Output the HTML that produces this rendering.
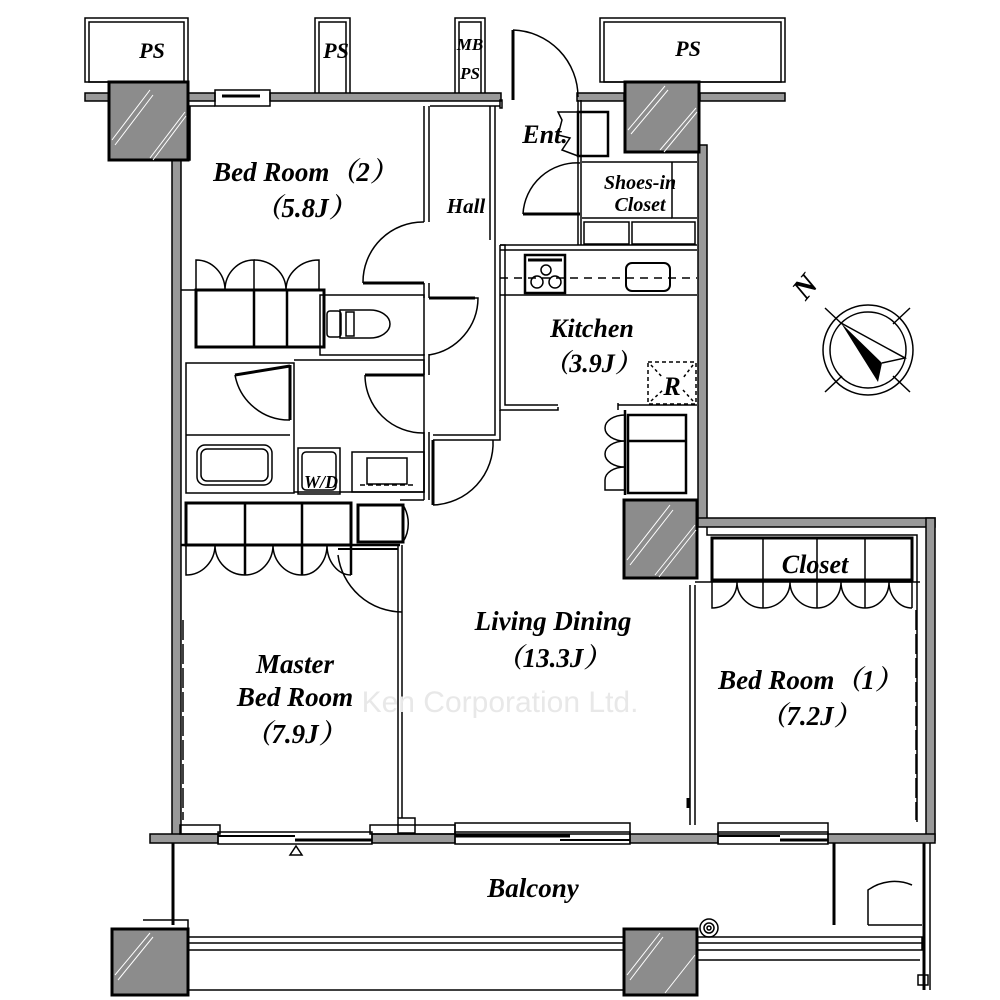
<!DOCTYPE html>
<html><head><meta charset="utf-8"><style>
html,body{margin:0;padding:0;background:#fff;}
svg{display:block}
text{font-family:"Liberation Serif","Noto Serif CJK SC",serif;font-style:italic;font-weight:bold;fill:#000}
</style></head><body>
<svg width="1000" height="1000" viewBox="0 0 1000 1000" xmlns="http://www.w3.org/2000/svg">
<g fill="none" stroke="#000" stroke-width="1.5">
<rect x="85" y="18" width="103" height="64"/><rect x="89" y="22" width="95" height="60"/>
<rect x="315" y="18" width="35" height="77"/><rect x="319" y="22" width="27" height="73"/>
<rect x="455" y="18" width="30" height="77"/><rect x="459" y="22" width="22" height="73"/>
<rect x="600" y="18" width="185" height="64"/><rect x="604" y="22" width="177" height="60"/>
</g>
<g stroke="#000" stroke-width="1.5" fill="#999">
<rect x="85" y="93" width="130" height="8"/>
<rect x="270" y="93" width="231" height="8"/>
<rect x="577" y="93" width="47" height="8"/>
<rect x="700" y="93" width="85" height="8"/>
</g>
<g fill="none" stroke="#000" stroke-width="1.5">
<rect x="215" y="90" width="55" height="16"/><line x1="222" y1="96" x2="260" y2="96" stroke-width="3"/>
<line x1="513" y1="30" x2="513" y2="100" stroke-width="3"/>
<path d="M513 30 A67 67 0 0 1 578 97"/>
<rect x="500" y="100" width="2" height="8"/>
</g>
<g fill="#999" stroke="#000" stroke-width="1.5">
<rect x="172" y="160" width="9" height="678"/>
<rect x="698" y="145" width="9" height="380"/>
<rect x="698" y="518" width="237" height="9"/>
<rect x="926" y="518" width="9" height="322"/>
<rect x="150" y="834" width="68" height="9"/>
<rect x="372" y="834" width="83" height="9"/>
<rect x="630" y="834" width="88" height="9"/>
<rect x="828" y="834" width="107" height="9"/>
</g>
<g fill="none" stroke="#000" stroke-width="1.5">
<rect x="218" y="832" width="154" height="12"/><line x1="218" y1="836" x2="295" y2="836" stroke-width="2"/><line x1="295" y1="840" x2="372" y2="840" stroke-width="3"/>
<rect x="455" y="832" width="175" height="12"/><line x1="455" y1="836" x2="570" y2="836" stroke-width="3"/><line x1="560" y1="840" x2="630" y2="840" stroke-width="2"/>
<rect x="718" y="832" width="110" height="12"/><line x1="718" y1="836" x2="780" y2="836" stroke-width="2"/><line x1="780" y1="840" x2="828" y2="840" stroke-width="3"/>
<rect x="180" y="825" width="40" height="9"/><rect x="370" y="825" width="85" height="9"/>
<rect x="455" y="823" width="175" height="11"/><rect x="718" y="823" width="110" height="11"/>
<path d="M290 855 L296 846 L302 855 Z"/>
<line x1="173" y1="843" x2="173" y2="925" stroke-width="3"/>
<line x1="834" y1="843" x2="834" y2="925" stroke-width="3"/>
<line x1="924" y1="843" x2="924" y2="990" stroke-width="3"/>
<line x1="930" y1="843" x2="930" y2="990"/>
<rect x="188" y="937" width="436" height="13"/><line x1="188" y1="943" x2="624" y2="943"/>
<rect x="697" y="937" width="225" height="13"/><line x1="697" y1="943" x2="922" y2="943"/>
<polyline points="143,920 188,920 188,937"/>
<polyline points="188,950 188,990 624,990"/>
<polyline points="697,960 920,960"/>
<path d="M868 925 L868 890 A45 45 0 0 1 912 885"/><line x1="868" y1="925" x2="922" y2="925"/>
<circle cx="709" cy="928" r="9"/><circle cx="709" cy="928" r="5"/><circle cx="709" cy="928" r="2"/>
<rect x="918" y="975" width="10" height="10"/>
</g>
<g stroke="#000" stroke-width="3" fill="#8c8c8c">
<rect x="109" y="82" width="79" height="78"/>
<rect x="625" y="82" width="74" height="70"/>
<rect x="624" y="500" width="73" height="78"/>
<rect x="112" y="929" width="76" height="66"/>
<rect x="624" y="929" width="73" height="66"/>
</g>
<g stroke="#fff" stroke-width="1" fill="none">
<path d="M112 140 L150 90 M115 145 L153 95 M150 158 L185 112 M153 160 L186 116"/>
<path d="M628 130 L665 86 M631 134 L668 90 M660 150 L696 108 M664 152 L697 112"/>
<path d="M627 560 L670 505 M630 565 L673 510 M655 575 L695 525 M659 577 L696 530"/>
<path d="M115 975 L150 933 M118 980 L153 937"/>
<path d="M627 975 L660 933 M630 980 L663 937 M665 993 L695 955"/>
</g>
<g fill="none" stroke="#000" stroke-width="1.5">
<polyline points="181,160 190,160 190,106 215,106"/>
<line x1="424" y1="106" x2="424" y2="222"/><line x1="429" y1="106" x2="429" y2="222"/>
<line x1="424" y1="283" x2="424" y2="298"/><line x1="429" y1="283" x2="429" y2="298"/>
<line x1="424" y1="354" x2="424" y2="375"/><line x1="429" y1="354" x2="429" y2="375"/>
<line x1="424" y1="432" x2="424" y2="500"/><line x1="429" y1="432" x2="429" y2="500"/>
<line x1="424" y1="500" x2="400" y2="500"/>
<line x1="490" y1="106" x2="490" y2="240"/><line x1="495" y1="106" x2="495" y2="240"/>
<polyline points="430,106 500,106"/>
<polyline points="500,245 500,410 558,410 558,407"/><polyline points="500,245 505,245 505,405 558,405"/>
<polyline points="500,410 500,440 433,440"/><polyline points="495,240 495,435 433,435"/>
<line x1="500" y1="245" x2="697" y2="245"/><line x1="500" y1="250" x2="697" y2="250"/>
<line x1="500" y1="295" x2="697" y2="295"/>
<line x1="500" y1="278" x2="697" y2="278" stroke-dasharray="8,6"/>
<rect x="525" y="255" width="40" height="38" stroke-width="2.5"/><line x1="528" y1="260" x2="562" y2="260" stroke-width="3"/>
<circle cx="546" cy="270" r="5"/><circle cx="537" cy="282" r="6"/><circle cx="555" cy="282" r="6"/>
<rect x="626" y="263" width="44" height="28" rx="6" stroke-width="2"/>
<line x1="578" y1="100" x2="578" y2="245"/><line x1="581" y1="100" x2="581" y2="245"/>
<rect x="578" y="112" width="30" height="44" stroke-width="2.5"/>
<path d="M578 112 L558 112 L562 120 L558 135 L570 138 L562 150 L578 156"/>
<path d="M580 163 A54 54 0 0 0 523 214"/>
<line x1="523" y1="214" x2="580" y2="214" stroke-width="3"/>
<polyline points="582,162 697,162"/><polyline points="672,162 672,218 697,218"/>
<polyline points="582,218 672,218"/>
<rect x="584" y="222" width="45" height="22"/><rect x="632" y="222" width="63" height="22"/>
<rect x="648" y="362" width="48" height="42" stroke-dasharray="4,3"/>
<line x1="651" y1="365" x2="663" y2="378" stroke-dasharray="3,3"/><line x1="693" y1="365" x2="683" y2="378" stroke-dasharray="3,3"/>
<line x1="651" y1="401" x2="663" y2="390" stroke-dasharray="3,3"/><line x1="693" y1="401" x2="683" y2="390" stroke-dasharray="3,3"/>
<line x1="618" y1="405" x2="697" y2="405"/><line x1="618" y1="403" x2="618" y2="410"/>
<rect x="628" y="415" width="58" height="78" stroke-width="2.5"/><line x1="628" y1="441" x2="686" y2="441" stroke-width="2.5"/>
<line x1="625" y1="410" x2="625" y2="495" stroke-width="2.5"/>
<path d="M625 415 A20 13 0 0 0 605 428 A20 13 0 0 0 625 441 A20 13 0 0 0 605 454 A20 13 0 0 0 625 467 A20 13 0 0 0 605 480 L605 490 L625 490"/>
<path d="M424 222 A60 60 0 0 0 363 283"/><line x1="363" y1="283" x2="424" y2="283" stroke-width="3"/>
<!-- bed2 closet -->
<line x1="181" y1="290" x2="325" y2="290"/>
<rect x="196" y="290" width="128" height="57" stroke-width="3"/>
<line x1="254" y1="290" x2="254" y2="347" stroke-width="2.5"/><line x1="287" y1="290" x2="287" y2="347" stroke-width="2.5"/>
<path d="M196 290 L196 260 A29 30 0 0 1 225 290 M254 290 L254 260 A29 30 0 0 0 225 290"/>
<path d="M254 260 A32 30 0 0 1 286 290 M319 290 L319 260 A33 30 0 0 0 286 290"/>
<!-- toilet -->
<rect x="320" y="295" width="104" height="60"/>
<path d="M340 310 L370 310 A20 14 0 0 1 370 338 L340 338 Z"/><rect x="327" y="311" width="14" height="26" rx="3"/>
<rect x="346" y="312" width="8" height="24"/>
<path d="M429 298 L478 298 A58 58 0 0 1 429 355"/><line x1="429" y1="298" x2="475" y2="298" stroke-width="3"/>
<!-- bath -->
<rect x="186" y="363" width="108" height="130"/>
<line x1="186" y1="435" x2="290" y2="435"/>
<rect x="197" y="445" width="75" height="40" rx="8"/><rect x="201" y="449" width="67" height="32" rx="6"/>
<line x1="290" y1="365" x2="290" y2="420" stroke-width="3"/>
<path d="M235 375 A55 55 0 0 0 290 420"/>
<line x1="290" y1="366" x2="235" y2="375" stroke-width="3"/>
<polyline points="294,360 424,360 424,492 294,492"/>
<rect x="298" y="448" width="42" height="46"/><rect x="302" y="452" width="34" height="38" rx="4"/>
<rect x="352" y="452" width="72" height="40"/><rect x="367" y="458" width="40" height="26"/>
<line x1="360" y1="485" x2="415" y2="485" stroke-dasharray="5,3"/>
<path d="M365 375 A58 58 0 0 0 424 433"/><line x1="365" y1="375" x2="424" y2="375" stroke-width="3"/>
<line x1="433" y1="440" x2="433" y2="505" stroke-width="3"/>
<path d="M433 505 A62 62 0 0 0 493 440"/>
<rect x="358" y="505" width="45" height="37" stroke-width="3"/>
<path d="M403 505 A35 35 0 0 1 403 542"/>
<!-- master closet -->
<rect x="186" y="503" width="165" height="42" stroke-width="3"/>
<line x1="245" y1="503" x2="245" y2="575" stroke-width="2.5"/><line x1="302" y1="503" x2="302" y2="575" stroke-width="2.5"/>
<line x1="181" y1="545" x2="400" y2="545" stroke-width="2.5"/>
<path d="M186 545 L186 575 A29 30 0 0 0 215 545 M245 575 A30 30 0 0 1 215 545 M245 575 A28 30 0 0 0 273 545 M302 575 A29 30 0 0 1 273 545 M302 575 A25 30 0 0 0 327 545 M351 575 A24 30 0 0 1 327 545"/>
<line x1="351" y1="545" x2="351" y2="575" stroke-width="2.5"/>
<path d="M338 555 A65 65 0 0 0 402 612"/><line x1="338" y1="549" x2="398" y2="549" stroke-width="2"/>
<line x1="398" y1="545" x2="398" y2="818"/><line x1="402" y1="545" x2="402" y2="818"/>
<rect x="398" y="818" width="17" height="15"/>
<line x1="690" y1="585" x2="690" y2="825"/><line x1="695" y1="585" x2="695" y2="825"/>
<line x1="688" y1="798" x2="688" y2="808" stroke-width="3"/>
<!-- bedroom1 closet -->
<polyline points="707,527 707,535 917,535 917,822"/>
<rect x="712" y="538" width="200" height="42" stroke-width="3"/>
<line x1="763" y1="538" x2="763" y2="608"/><line x1="817" y1="538" x2="817" y2="608"/><line x1="865" y1="538" x2="865" y2="608"/>
<line x1="695" y1="582" x2="920" y2="582"/>
<path d="M712 582 L712 608 A25 26 0 0 0 737 582 M763 608 A26 26 0 0 1 737 582 M763 608 A27 26 0 0 0 790 582 M817 608 A27 26 0 0 1 790 582 M817 608 A24 26 0 0 0 841 582 M865 608 A24 26 0 0 1 841 582 M865 608 A24 26 0 0 0 889 582 M912 608 A23 26 0 0 1 889 582 L912 582"/>
<line x1="912" y1="582" x2="912" y2="608"/>
<line x1="183" y1="620" x2="183" y2="820" stroke-dasharray="20,4"/>
<line x1="916" y1="610" x2="916" y2="820" stroke-dasharray="20,4"/>
<circle cx="868" cy="350" r="45"/><circle cx="868" cy="350" r="38"/>
<line x1="825" y1="308" x2="842" y2="324"/><line x1="910" y1="308" x2="893" y2="324"/>
<line x1="825" y1="392" x2="842" y2="376"/><line x1="910" y1="392" x2="893" y2="376"/>
</g>
<path d="M841 323 L878 382 L882 363 Z" fill="#000"/>
<path d="M841 323 L905 358 L882 363" fill="none" stroke="#000" stroke-width="1.5"/>
<text x="798" y="305" font-size="30" transform="rotate(-50 798 295)" font-style="normal">N</text>
<g text-anchor="middle">
<text x="152" y="58" font-size="22">PS</text>
<text x="336" y="58" font-size="22">PS</text>
<text x="470" y="50" font-size="17">MB</text>
<text x="470" y="79" font-size="17">PS</text>
<text x="688" y="56" font-size="22">PS</text>
<text x="305" y="181" font-size="27">Bed Room（2）</text>
<text x="305" y="217" font-size="27">（5.8J）</text>
<text x="466" y="213" font-size="21">Hall</text>
<text x="545" y="143" font-size="26">Ent.</text>
<text x="640" y="189" font-size="20">Shoes-in</text>
<text x="640" y="211" font-size="20">Closet</text>
<text x="592" y="337" font-size="26">Kitchen</text>
<text x="592" y="372" font-size="26">（3.9J）</text>
<text x="672" y="395" font-size="26">R</text>
<text x="321" y="488" font-size="18">W/D</text>
<text x="815" y="573" font-size="26">Closet</text>
<text x="553" y="630" font-size="27">Living Dining</text>
<text x="553" y="667" font-size="27">（13.3J）</text>
<text x="295" y="673" font-size="27">Master</text>
<text x="295" y="706" font-size="27">Bed Room</text>
<text x="295" y="743" font-size="27">（7.9J）</text>
<text x="810" y="689" font-size="27">Bed Room（1）</text>
<text x="810" y="725" font-size="27">（7.2J）</text>
<text x="533" y="897" font-size="27">Balcony</text>
</g>
<text x="500" y="712" text-anchor="middle" font-size="30" style="font-family:'Liberation Sans',sans-serif;font-style:normal;font-weight:normal;fill:#e8e8e8">Ken Corporation Ltd.</text>
</svg>
</body></html>
